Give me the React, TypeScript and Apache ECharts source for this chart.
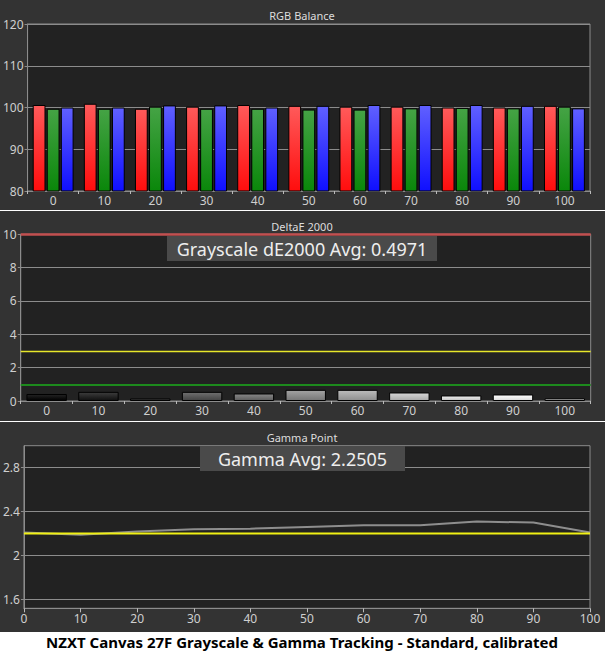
import { useEffect, useRef } from "react"
import * as echarts from "echarts"

// stimulus levels (% white)
const levels = ["0", "10", "20", "30", "40", "50", "60", "70", "80", "90", "100"]
const gammaLevels = [0, 10, 20, 30, 40, 50, 60, 70, 80, 90, 100]

// RGB balance, %
const redBalance = [100.6, 100.9, 99.7, 100.2, 100.6, 100.4, 100.2, 100.2, 100.0, 100.0, 100.4]
const greenBalance = [99.7, 99.7, 100.2, 99.7, 99.7, 99.5, 99.5, 99.8, 99.9, 99.8, 100.2]
const blueBalance = [100.0, 100.0, 100.5, 100.5, 100.0, 100.4, 100.6, 100.6, 100.6, 100.4, 99.8]

// grayscale dE2000
const deltaE = [0.42, 0.55, 0.15, 0.55, 0.45, 0.67, 0.67, 0.51, 0.33, 0.39, 0.15]
const deltaEAvg = "0.4971"
const deltaELimits = { red: 10, yellow: 3, green: 1 }

// gamma
const gammaMeasured = [2.21, 2.19, 2.22, 2.24, 2.245, 2.26, 2.275, 2.275, 2.31, 2.3, 2.21]
const gammaTarget = 2.2
const gammaAvg = "2.2505"
const gammaTicks = [1.6, 2, 2.4, 2.8]

const FONT = "Noto Sans"
const GRID_LINE = "#8c8c8c"
const LABEL = "#cfcfcf"

const grad = (top: string, bottom: string) =>
  new echarts.graphic.LinearGradient(0, 0, 0, 1, [
    { offset: 0, color: top },
    { offset: 1, color: bottom },
  ])

const gray = (v: number, d = 0) => {
  const c = Math.max(0, Math.min(255, Math.round(v + d)))
  return `rgb(${c},${c},${c})`
}

export default function App() {
  const chartRef = useRef<HTMLDivElement>(null)

  useEffect(() => {
    document.body.style.margin = "0"
    if (!chartRef.current) return
    const chart = echarts.init(chartRef.current, null, { renderer: "svg" })

    const axisLabel = { color: LABEL, fontFamily: FONT, fontSize: 12 }
    const yCommon = {
      axisLine: { show: true, lineStyle: { color: GRID_LINE } },
      axisTick: { show: true, length: 3, lineStyle: { color: GRID_LINE } },
      splitLine: { show: true, lineStyle: { color: GRID_LINE, width: 1 } },
      axisLabel: { ...axisLabel, margin: 4 },
    }
    const xCategory = (gridIndex: number) => ({
      type: "category" as const,
      gridIndex,
      data: levels,
      axisLine: { lineStyle: { color: GRID_LINE } },
      axisTick: { show: true, length: 3, lineStyle: { color: "#bbbbbb" } },
      axisLabel: { ...axisLabel, margin: 3 },
    })

    const barStyle = (top: string, bottom: string) => ({
      color: grad(top, bottom),
      borderColor: "#000",
      borderWidth: 1,
    })

    const titleText = (y: number, text: string) => ({
      type: "text",
      x: 302,
      y,
      z: 50,
      style: { text, fill: "#dddddd", font: `11px "${FONT}"`, textAlign: "center", textVerticalAlign: "middle" },
    })

    const overlay = (x: number, y: number, w: number, text: string) => ({
      type: "group",
      z: 100,
      children: [
        { type: "rect", z: 100, shape: { x, y, width: w, height: 25 }, style: { fill: "#4a4a4a" } },
        {
          type: "text",
          z: 101,
          x: x + w / 2,
          y: y + 12.5,
          style: { text, fill: "#eeeeee", font: `18px "${FONT}"`, textAlign: "center", textVerticalAlign: "middle" },
        },
      ],
    })

    const limitLine = (value: number, color: string, width: number) => ({
      yAxis: value,
      lineStyle: { color, width, type: "solid" },
    })

    chart.setOption({
      animation: false,
      backgroundColor: "#ffffff",
      graphic: [
        { type: "rect", z: -10, shape: { x: 0, y: 0, width: 605, height: 210 }, style: { fill: "#333333" } },
        { type: "rect", z: -10, shape: { x: 0, y: 211, width: 605, height: 210 }, style: { fill: "#333333" } },
        { type: "rect", z: -10, shape: { x: 0, y: 422, width: 605, height: 210 }, style: { fill: "#333333" } },
        titleText(15, "RGB Balance"),
        titleText(226, "DeltaE 2000"),
        titleText(437, "Gamma Point"),
        overlay(167, 236, 270, `Grayscale dE2000 Avg: ${deltaEAvg}`),
        overlay(200, 446, 205, `Gamma Avg: ${gammaAvg}`),
        {
          type: "text",
          x: 302,
          y: 642,
          style: {
            text: "NZXT Canvas 27F Grayscale & Gamma Tracking - Standard, calibrated",
            fill: "#000",
            font: `bold 15px "${FONT}"`,
            textAlign: "center",
            textVerticalAlign: "middle",
          },
        },
      ],
      grid: [
        { left: 26.5, top: 24, width: 563.5, height: 167, show: true, backgroundColor: "#222222", borderColor: GRID_LINE },
        { left: 20.7, top: 234.3, width: 570, height: 166.7, show: true, backgroundColor: "#222222", borderColor: GRID_LINE },
        { left: 23.3, top: 445.7, width: 566.7, height: 162.6, show: true, backgroundColor: "#222222", borderColor: GRID_LINE },
      ],
      xAxis: [
        xCategory(0),
        xCategory(1),
        {
          type: "value",
          gridIndex: 2,
          min: 0,
          max: 100,
          interval: 10,
          axisLine: { lineStyle: { color: GRID_LINE } },
          axisTick: { show: true, length: 4, lineStyle: { color: "#bbbbbb" } },
          splitLine: { show: false },
          axisLabel: { ...axisLabel, margin: 4 },
        },
      ],
      yAxis: [
        { type: "value", gridIndex: 0, min: 80, max: 120, interval: 10, ...yCommon },
        { type: "value", gridIndex: 1, min: 0, max: 10, interval: 2, ...yCommon },
        {
          type: "value",
          gridIndex: 2,
          min: 1.52,
          max: 3.0,
          ...yCommon,
          axisTick: { ...yCommon.axisTick, customValues: gammaTicks },
          axisLabel: { ...yCommon.axisLabel, customValues: gammaTicks },
        },
      ],
      series: [
        {
          name: "Red",
          type: "bar",
          xAxisIndex: 0,
          yAxisIndex: 0,
          data: redBalance,
          barGap: "10%",
          barCategoryGap: "20%",
          itemStyle: barStyle("#ff5a5a", "#ff0d0d"),
        },
        {
          name: "Green",
          type: "bar",
          xAxisIndex: 0,
          yAxisIndex: 0,
          data: greenBalance,
          itemStyle: barStyle("#45a345", "#0a870a"),
        },
        {
          name: "Blue",
          type: "bar",
          xAxisIndex: 0,
          yAxisIndex: 0,
          data: blueBalance,
          itemStyle: barStyle("#6060ff", "#0f0fff"),
        },
        {
          name: "dE2000",
          type: "bar",
          xAxisIndex: 1,
          yAxisIndex: 1,
          barCategoryGap: "22%",
          data: deltaE.map((v, i) => {
            const g = (Number(levels[i]) / 100) * 255
            return { value: v, itemStyle: barStyle(gray(g, 35), gray(g, -10)) }
          }),
          markLine: {
            symbol: "none",
            silent: true,
            label: { show: false },
            data: [
              limitLine(deltaELimits.red, "#c24f4f", 2.5),
              limitLine(deltaELimits.yellow, "#e6e62a", 1.3),
              limitLine(deltaELimits.green, "#1d8a1d", 2),
            ],
          },
        },
        {
          name: "Gamma",
          type: "line",
          xAxisIndex: 2,
          yAxisIndex: 2,
          data: gammaLevels.map((x, i) => [x, gammaMeasured[i]]),
          symbol: "none",
          silent: true,
          lineStyle: { color: "#8e8e8e", width: 2 },
          z: 3,
        },
        {
          name: "Target",
          type: "line",
          xAxisIndex: 2,
          yAxisIndex: 2,
          data: gammaLevels.map((x) => [x, gammaTarget]),
          symbol: "none",
          silent: true,
          lineStyle: { color: "#f0f014", width: 2 },
          z: 4,
        },
      ],
    })

    return () => chart.dispose()
  }, [])

  return <div ref={chartRef} style={{ width: "605px", height: "652px" }} />
}
